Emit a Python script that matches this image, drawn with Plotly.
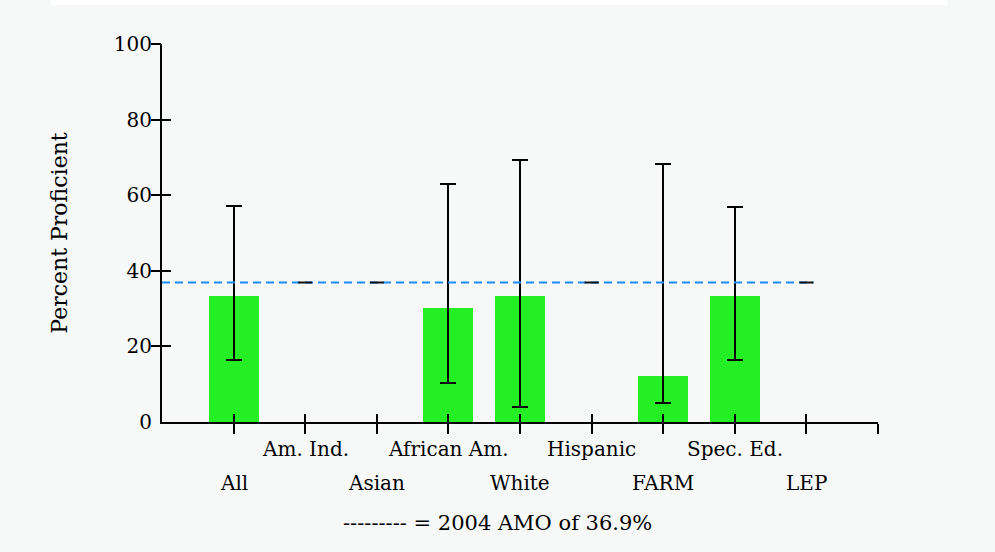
import plotly.graph_objects as go

# Student groups, in axis order
groups = ["All", "Am. Ind.", "Asian", "African Am.", "White",
          "Hispanic", "FARM", "Spec. Ed.", "LEP"]
# Percent proficient (None = group not reported)
percent = [33.3, None, None, 30.2, 33.3, None, 12.3, 33.3, None]
# Confidence interval bounds
ci_upper = [57.1, None, None, 63.0, 69.2, None, 68.3, 57.0, None]
ci_lower = [16.5, None, None, 10.4, 4.0, None, 5.1, 16.5, None]
# Annual measurable objective
amo = 36.9
y_ticks = [0, 20, 40, 60, 80, 100]

positions = list(range(1, len(groups) + 1))
err_plus = [None if p is None else u - p for p, u in zip(percent, ci_upper)]
err_minus = [None if p is None else p - l for p, l in zip(percent, ci_lower)]

FONT = "DejaVu Serif"
BG = "#f7f9f8"

fig = go.Figure()

# AMO reference line across the groups
fig.add_trace(go.Scatter(
    x=[0, len(groups) + 0.1], y=[amo, amo], mode="lines",
    line=dict(color="#1a8cff", width=2, dash="8px,5px"),
    hoverinfo="skip", showlegend=False,
))

# Bars with asymmetric confidence intervals
fig.add_trace(go.Bar(
    x=positions, y=percent, width=0.7,
    marker=dict(color="#24ee24", line=dict(width=0)),
    error_y=dict(type="data", symmetric=False, array=err_plus,
                 arrayminus=err_minus, color="black", thickness=2, width=8),
    showlegend=False,
))

# Unreported groups are marked on the AMO line
missing = [x for x, p in zip(positions, percent) if p is None]
fig.add_trace(go.Scatter(
    x=missing, y=[amo] * len(missing), mode="markers",
    marker=dict(symbol="line-ew", size=10, line=dict(color="#111111", width=2)),
    hoverinfo="skip", showlegend=False,
))

axis_line = dict(showline=True, linecolor="black", linewidth=2,
                 showgrid=False, zeroline=False)

fig.update_layout(
    width=995, height=552,
    margin=dict(l=162, r=117, t=44, b=130),
    paper_bgcolor=BG, plot_bgcolor=BG,
    font=dict(family=FONT, size=20, color="black"),
    bargap=0,
    xaxis=dict(range=[0, len(groups) + 1], tickvals=positions + [len(groups) + 1],
               ticktext=[""] * (len(groups) + 1), ticks="outside", ticklen=10,
               tickwidth=2, tickcolor="black", **axis_line),
    xaxis2=dict(range=[0, len(groups) + 1], overlaying="x", side="bottom",
                tickvals=positions + [len(groups) + 1], showticklabels=False,
                ticks="inside", ticklen=8, tickwidth=2, tickcolor="black",
                showline=False, showgrid=False, zeroline=False),
    yaxis=dict(range=[0, 100], tickvals=y_ticks, ticks="", ticklabelstandoff=4,
               title=dict(text="Percent Proficient", standoff=40,
                          font=dict(family=FONT, size=22)),
               **axis_line),
    yaxis2=dict(range=[0, 100], overlaying="y", side="left",
                tickvals=y_ticks[1:], showticklabels=False,
                ticks="outside", ticklen=10, tickwidth=2, tickcolor="black",
                showline=False, showgrid=False, zeroline=False),
    yaxis3=dict(range=[0, 100], overlaying="y", side="left",
                tickvals=y_ticks[1:], showticklabels=False,
                ticks="inside", ticklen=9, tickwidth=2, tickcolor="black",
                showline=False, showgrid=False, zeroline=False),
)

# Invisible traces to activate the overlay tick axes
fig.add_trace(go.Scatter(x=[None], y=[None], xaxis="x2", yaxis="y2",
                         showlegend=False, hoverinfo="skip"))
fig.add_trace(go.Scatter(x=[None], y=[None], xaxis="x", yaxis="y3",
                         showlegend=False, hoverinfo="skip"))

# Staggered group labels under the axis
for i, (x, name) in enumerate(zip(positions, groups)):
    fig.add_annotation(
        x=x, xref="x", y=-0.072 if i % 2 else -0.162, yref="paper",
        text=name, showarrow=False, xanchor="center", yanchor="middle",
        font=dict(family=FONT, size=20, color="black"),
    )

fig.add_annotation(
    x=0.468, xref="paper", y=-0.268, yref="paper",
    text=f"--------- = 2004 AMO of {amo}%", showarrow=False,
    xanchor="center", yanchor="middle",
    font=dict(family=FONT, size=21, color="black"),
)

# White strip along the top edge
fig.add_shape(type="rect", xref="paper", yref="paper",
              x0=-0.155, x1=1.097, y0=1.104, y1=1.2,
              fillcolor="white", line=dict(width=0), layer="below")

fig.write_html("out.html")
